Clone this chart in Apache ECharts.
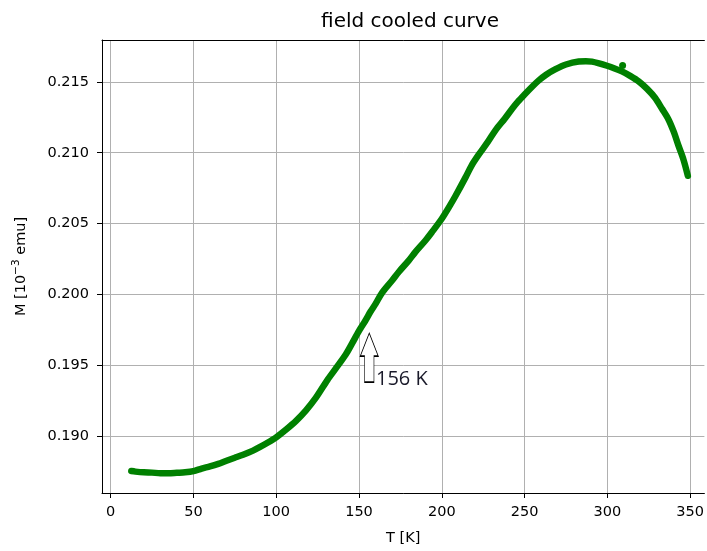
<!DOCTYPE html>
<html>
<head>
<meta charset="utf-8">
<script src="https://cdn.jsdelivr.net/npm/echarts@6/dist/echarts.min.js"></script>
<style>html,body{margin:0;padding:0;background:#fff}#c{width:707px;height:551px}</style>
</head>
<body>
<div id="c"></div>
<script>
const temps = [12.5, 15, 20, 25, 30, 35, 40, 45, 50, 55, 60, 65, 70, 75, 80, 86, 90, 95, 100, 106, 112, 118, 124, 131, 136, 142, 146, 150, 154, 157, 160, 164, 170, 174, 180, 184, 190, 194, 200, 204, 208, 214.5, 218, 222.5, 228, 232.5, 238, 242.5, 246, 250, 255, 258.6, 263, 268.7, 275, 282.7, 287, 290.7, 295, 299.8, 304, 308.8, 314, 318.9, 324, 328.9, 333, 336.9, 340, 343, 346, 348.6];
const moments = [0.18757, 0.18753, 0.18748, 0.18746, 0.18742, 0.18742, 0.18745, 0.18748, 0.18756, 0.18775, 0.18790, 0.18808, 0.18830, 0.18851, 0.18872, 0.18901, 0.18925, 0.18958, 0.18995, 0.19050, 0.19111, 0.19185, 0.19274, 0.19400, 0.19480, 0.19578, 0.19660, 0.19745, 0.19820, 0.19881, 0.19935, 0.20015, 0.20100, 0.20160, 0.20240, 0.20300, 0.20380, 0.20440, 0.20535, 0.20610, 0.20690, 0.20830, 0.20910, 0.20990, 0.21080, 0.21160, 0.21240, 0.21310, 0.21360, 0.21410, 0.21470, 0.21510, 0.21550, 0.21589, 0.21622, 0.21643, 0.21645, 0.21642, 0.21630, 0.21613, 0.21596, 0.21573, 0.21540, 0.21503, 0.21450, 0.21386, 0.21310, 0.21235, 0.21150, 0.21048, 0.20950, 0.20838];
const outlierT = [309.2];
const outlierM = [0.21615];
const xTicks = [0, 50, 100, 150, 200, 250, 300, 350];
const yTicks = [0.190, 0.195, 0.200, 0.205, 0.210, 0.215];
const annotT = 156.2;
const annotM = 0.19729;
const annotText = '156 K';

const FONT = 'DejaVu Sans';
const chart = echarts.init(document.getElementById('c'), null, {renderer: 'canvas'});
const mainData = temps.map((t, i) => [t, moments[i]]);
const outData = outlierT.map((t, i) => [t, outlierM[i]]);
const X_MIN = -5.2, X_MAX = 358.6;

chart.setOption({
  backgroundColor: '#ffffff',
  animation: false,
  title: {
    text: 'field cooled curve',
    left: 410, top: 12, padding: 0, textAlign: 'center',
    textStyle: {fontFamily: FONT, fontSize: 20, fontWeight: 'normal', color: '#000'}
  },
  grid: {
    left: 102, top: 40, width: 604, height: 456,
    show: true, borderWidth: 0, backgroundColor: '#fff'
  },
  xAxis: [{
    type: 'value', min: X_MIN, max: X_MAX, position: 'bottom',
    name: 'T [K]', nameLocation: 'middle', nameGap: 38,
    nameTextStyle: {fontFamily: FONT, fontSize: 14.5, color: '#000'},
    axisLine: {show: true, onZero: false, lineStyle: {color: '#000', width: 1}},
    axisTick: {show: true, length: 5, lineStyle: {color: '#000', width: 1}, customValues: xTicks},
    axisLabel: {fontFamily: FONT, fontSize: 14.5, color: '#000', margin: 12, customValues: xTicks},
    splitLine: {show: true, lineStyle: {color: '#b0b0b0', width: 1}}
  }, {
    type: 'value', min: X_MIN, max: X_MAX, position: 'top',
    axisLine: {show: true, onZero: false, lineStyle: {color: '#000', width: 1}},
    axisTick: {show: false}, axisLabel: {show: false}, splitLine: {show: false}
  }],
  yAxis: {
    type: 'value', min: 0.186024, max: 0.217945,
    name: '{n|M [10}{s|−3}{n| emu]}', nameLocation: 'middle', nameGap: 73, nameRotate: 90,
    nameTextStyle: {fontFamily: FONT, fontSize: 14.5, color: '#000',
      rich: {
        n: {fontFamily: FONT, fontSize: 14.5, color: '#000', verticalAlign: 'bottom', lineHeight: 18},
        s: {fontFamily: FONT, fontSize: 10.5, color: '#000', verticalAlign: 'top', lineHeight: 12}
      }},
    axisLine: {show: true, onZero: false, lineStyle: {color: '#000', width: 1}},
    axisTick: {show: true, length: 5, lineStyle: {color: '#000', width: 1}, customValues: yTicks},
    axisLabel: {fontFamily: FONT, fontSize: 14.5, color: '#000', margin: 13, customValues: yTicks,
      formatter: v => v.toFixed(3)},
    splitLine: {show: true, lineStyle: {color: '#b0b0b0', width: 1}}
  },
  series: [
    {
      type: 'line', data: mainData, smooth: 0.3, showSymbol: false, symbol: 'none',
      lineStyle: {color: '#008000', width: 6.5, cap: 'round', join: 'round'},
      z: 3,
      markPoint: {
        silent: true,
        data: [{
          coord: [annotT, annotM],
          symbol: 'path://M0,0 L9,23 L4.7,23 L4.7,49 L-4.7,49 L-4.7,23 L-9,23 Z',
          symbolSize: [18, 49],
          symbolOffset: [0, 24.5],
          itemStyle: {color: '#ffffff', borderColor: '#000', borderWidth: 1},
          label: {
            show: true, formatter: annotText, position: [16, 47], align: 'left', verticalAlign: 'middle',
            fontFamily: 'Open Sans', fontSize: 20, color: '#1a1a2a'
          }
        }]
      }
    },
    {
      type: 'scatter', data: outData, symbol: 'circle', symbolSize: 7,
      itemStyle: {color: '#008000', opacity: 1}, z: 4
    }
  ]
});
</script>
</body>
</html>
